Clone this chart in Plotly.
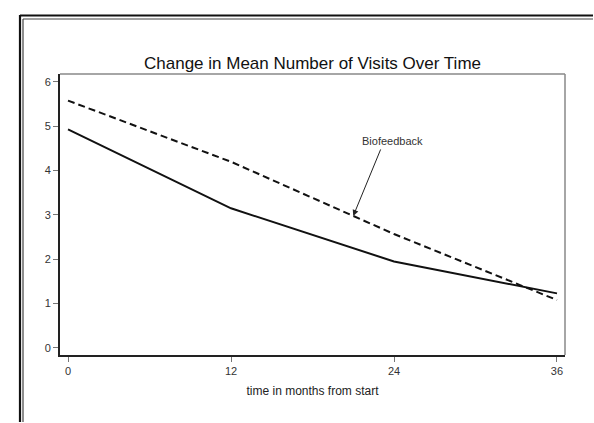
import plotly.graph_objects as go

months = [0, 12, 24, 36]
standard_care = [4.93, 3.15, 1.95, 1.23]
biofeedback = [5.58, 4.20, 2.57, 1.08]
x_ticks = [0, 12, 24, 36]
y_ticks = [0, 1, 2, 3, 4, 5, 6]
title_text = "Change in Mean Number of Visits Over Time"
x_title = "time in months from start"
label_text = "Biofeedback"
label_month = 21

W, H = 594, 423
L, T = 60, 74
R = W - 565
B = H - 355
PW, PH = W - L - R, H - T - B

def px_x(p):  # window pixel -> paper
    return (p - L) / PW

def px_y(p):
    return (H - B - p) / PH

font = "Liberation Sans, Arial, sans-serif"

fig = go.Figure()
fig.add_trace(go.Scatter(x=months, y=standard_care, mode="lines",
                         line=dict(color="#111111", width=2), showlegend=False))
fig.add_trace(go.Scatter(x=months, y=biofeedback, mode="lines",
                         line=dict(color="#111111", width=2, dash="7px,4px"), showlegend=False))

def interp(xs, ys, x):
    for i in range(len(xs) - 1):
        if xs[i] <= x <= xs[i + 1]:
            t = (x - xs[i]) / (xs[i + 1] - xs[i])
            return ys[i] + t * (ys[i + 1] - ys[i])
    return ys[-1]

shapes = []
shapes.append(dict(type="line", xref="paper", yref="paper", x0=0, x1=1, y0=1, y1=1,
                   line=dict(color="#888888", width=1.5)))
shapes.append(dict(type="line", xref="paper", yref="paper", x0=1, x1=1, y0=0, y1=1,
                   line=dict(color="#888888", width=1.5)))
# outer double border (runs to the right and bottom edges)
shapes.append(dict(type="line", xref="paper", yref="paper", x0=px_x(20), x1=px_x(20),
                   y0=px_y(15), y1=px_y(H - 1), line=dict(color="#111111", width=2.2)))
shapes.append(dict(type="line", xref="paper", yref="paper", x0=px_x(20), x1=px_x(W - 1),
                   y0=px_y(15.5), y1=px_y(15.5), line=dict(color="#111111", width=2.2)))
shapes.append(dict(type="line", xref="paper", yref="paper", x0=px_x(23), x1=px_x(23),
                   y0=px_y(19), y1=px_y(H - 1), line=dict(color="#444444", width=1.2)))
shapes.append(dict(type="line", xref="paper", yref="paper", x0=px_x(23), x1=px_x(W - 1),
                   y0=px_y(19), y1=px_y(19), line=dict(color="#444444", width=1.2)))

annotations = [
    dict(x=label_month, y=interp(months, biofeedback, label_month), xref="x", yref="y",
         text="", showarrow=True, ax=28, ay=-68, arrowhead=2, arrowsize=1.2,
         arrowwidth=1, arrowcolor="#222222", standoff=0, startstandoff=0),
    dict(x=px_x(392), y=px_y(133), xref="paper", yref="paper", text=label_text,
         showarrow=False, font=dict(family=font, size=11, color="#333333")),
]

fig.update_layout(
    width=W, height=H,
    margin=dict(l=L, r=R, t=T, b=B),
    paper_bgcolor="white", plot_bgcolor="white",
    title=dict(text=title_text, x=0.5, xref="paper", xanchor="center",
               y=1 - 63 / H, yref="container", yanchor="middle",
               font=dict(family=font, size=17, color="#111111")),
    xaxis=dict(range=[-0.59, 36.59], tickvals=x_ticks, ticks="outside", ticklen=5,
               tickcolor="#777777", tickwidth=1, showgrid=False, zeroline=False,
               showline=True, linecolor="#222222", linewidth=2,
               tickfont=dict(family=font, size=11, color="#333333"),
               title=dict(text=x_title, standoff=10,
                          font=dict(family=font, size=12, color="#222222"))),
    yaxis=dict(range=[-0.16, 6.18], tickvals=y_ticks, ticks="outside", ticklen=5,
               tickcolor="#777777", tickwidth=1, showgrid=False, zeroline=False,
               showline=True, linecolor="#222222", linewidth=2,
               tickfont=dict(family=font, size=11, color="#333333")),
    shapes=shapes, annotations=annotations,
)

fig.write_html(
    "out.html",
    config={"displayModeBar": False, "staticPlot": True},
    post_script="document.documentElement.style.overflow='hidden';document.body.style.margin='0';document.body.style.overflow='hidden';",
)
